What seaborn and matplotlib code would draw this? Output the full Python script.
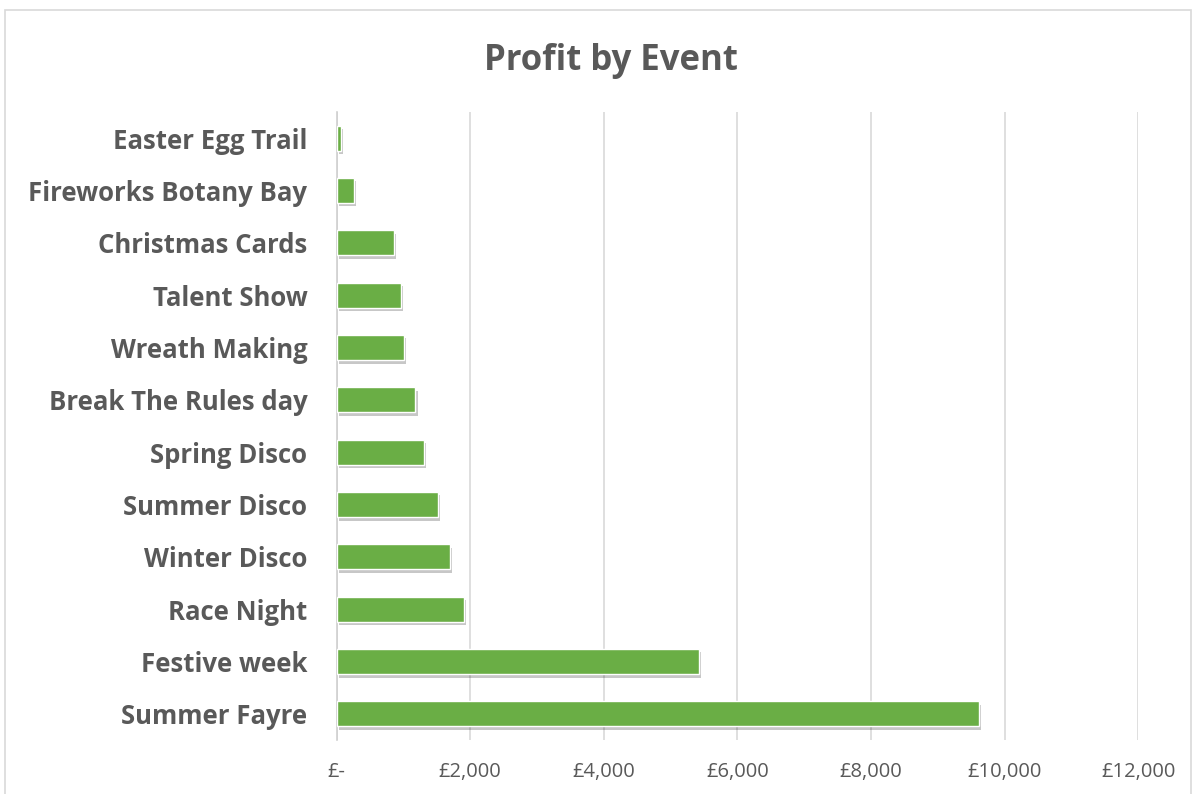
import matplotlib
matplotlib.use("Agg")
import matplotlib.pyplot as plt
import matplotlib.patheffects as pe
from matplotlib.patches import Rectangle
from matplotlib.ticker import FuncFormatter
import pandas as pd
import seaborn as sns

# values (GBP)
events = ["Easter Egg Trail", "Fireworks Botany Bay", "Christmas Cards", "Talent Show",
          "Wreath Making", "Break The Rules day", "Spring Disco", "Summer Disco",
          "Winter Disco", "Race Night", "Festive week", "Summer Fayre"]
profit = [60, 260, 860, 960, 1010, 1180, 1310, 1520, 1690, 1900, 5430, 9620]
x_ticks = [0, 2000, 4000, 6000, 8000, 10000, 12000]

df = pd.DataFrame({"Event": events, "Profit": profit})

sns.set_style("white")
plt.rcParams["font.family"] = ["Open Sans", "DejaVu Sans"]
text_grey = "#595959"

fig = plt.figure(figsize=(11.98, 7.94), dpi=100)
ax = fig.add_axes([0.281, 0.068, 0.669, 0.791])

sns.barplot(data=df, x="Profit", y="Event", orient="h", color="#6aae45",
            width=0.48, saturation=1, ax=ax, zorder=3)
for bar in ax.patches:
    bar.set_path_effects([pe.SimplePatchShadow(offset=(1.5, -2.5), shadow_rgbFace="#000000", alpha=0.22),
                          pe.Normal()])

ax.set_xlim(0, 12000)
ax.set_xticks(x_ticks)
ax.xaxis.set_major_formatter(FuncFormatter(lambda v, p: "£-" if v == 0 else f"£{v:,.0f}"))
ax.grid(axis="x", color="#d9d9d9", linewidth=1.2, zorder=0)
ax.grid(axis="y", visible=False)
ax.set_axisbelow(True)
ax.set_xlabel("")
ax.set_ylabel("")

for side in ["top", "right", "bottom"]:
    ax.spines[side].set_visible(False)
ax.spines["left"].set_color("#d0d0d0")
ax.spines["left"].set_linewidth(1.2)

ax.tick_params(axis="y", length=0, pad=21, labelsize=18.5, labelcolor=text_grey)
ax.tick_params(axis="x", length=0, pad=16, labelsize=14.5, labelcolor=text_grey)
for lbl in ax.get_yticklabels():
    lbl.set_fontweight("bold")

fig.text(0.51, 0.923, "Profit by Event", ha="center", va="center",
         fontsize=25, fontweight="bold", color=text_grey)

fig.patches.append(Rectangle((0.004, -0.01), 0.99, 0.997, transform=fig.transFigure,
                             fill=False, edgecolor="#d9d9d9", linewidth=1.2))

fig.savefig("out.png", dpi=100)
